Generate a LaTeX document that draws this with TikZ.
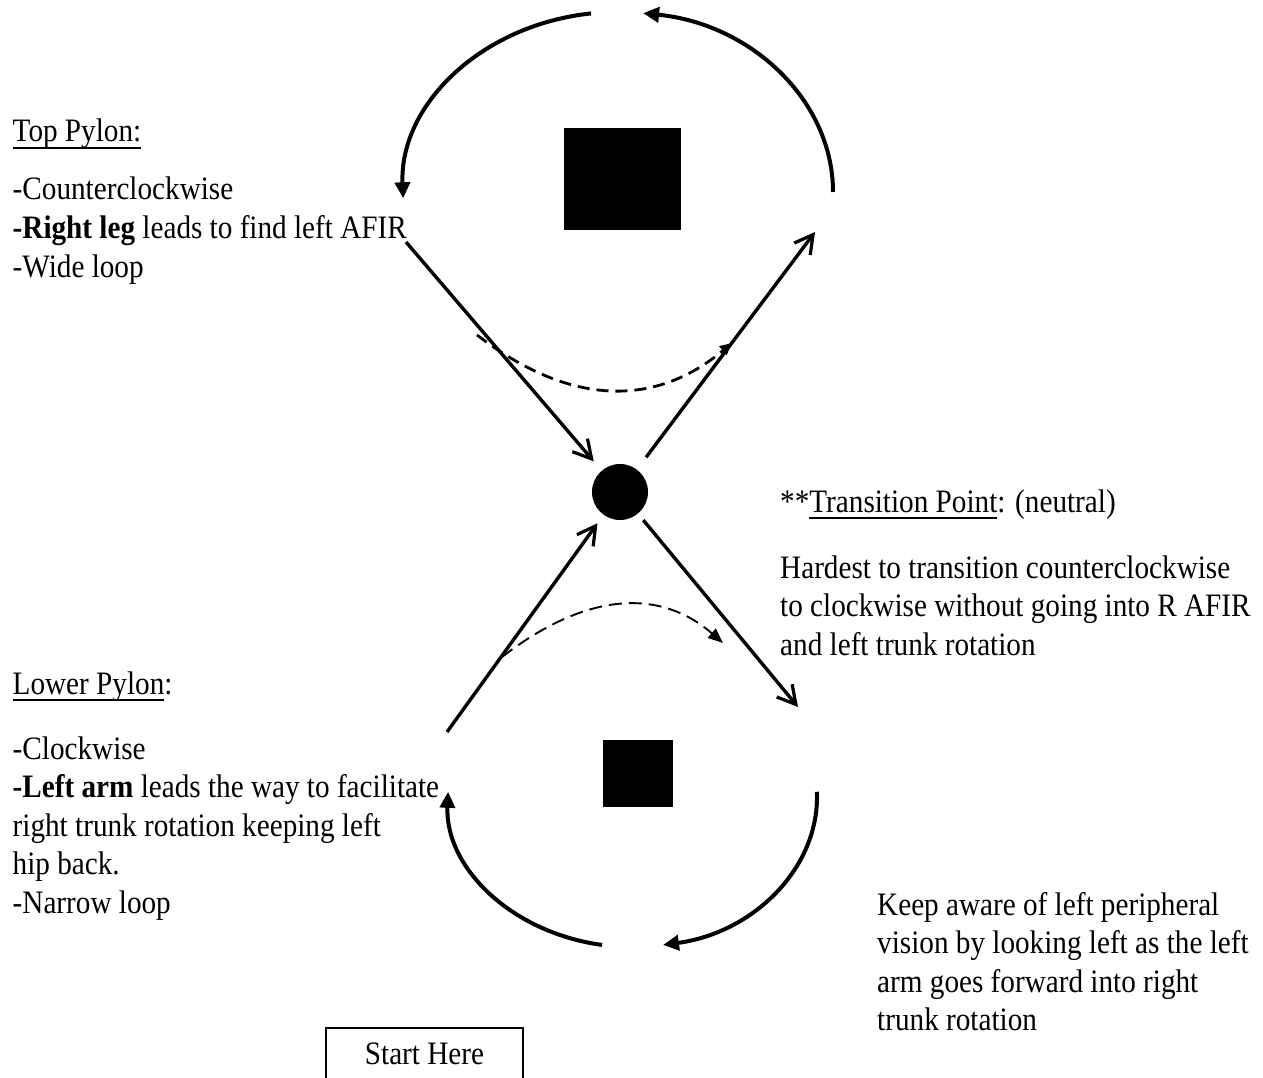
\documentclass[tikz,border=0pt]{standalone}
\usepackage{graphicx}
\usepackage{fontspec}
\setmainfont{Liberation Serif}
\usetikzlibrary{arrows.meta}
\newcommand\myul[1]{\setbox0\hbox{#1}\rlap{\rule[-6.2pt]{\wd0}{1.3pt}}\box0}
\newcommand\vs[1]{\scalebox{1}[1.12]{#1}}
\begin{document}
\begin{tikzpicture}[x=1pt,y=1pt,
  txt/.style={anchor=base west, inner sep=0pt, font=\fontsize{29.2}{38.5}\selectfont},
  solidarrow/.style={line width=3.4pt, -{Straight Barb[length=18pt,width=20pt,line width=3.2pt]}},
  looparrow/.style={line width=4pt, -{Triangle[length=16pt,width=15pt]}},
  dashtop/.style={line width=2.8pt, dash pattern=on 12pt off 7pt, -{Triangle[length=12pt,width=11pt]}},
  dashbot/.style={line width=1.9pt, dash pattern=on 13pt off 7pt, -{Triangle[length=15pt,width=12pt]}},
  pylon/.style={fill=black, inner sep=0pt, outer sep=0pt}]
\useasboundingbox (0,0) rectangle (1263,-1078);
\clip (0,0) rectangle (1263,-1078);

% pylons and transition point
\node[pylon, minimum width=117pt, minimum height=102pt] (topsq) at (622.5,-179) {};
\node[pylon, minimum width=70pt, minimum height=67pt] (botsq) at (638,-773.5) {};
\node[pylon, circle, minimum size=56pt] (dot) at (620,-492) {};

% loop around top pylon (counterclockwise)
\coordinate (tc) at (618,-192);
\draw[looparrow] (tc) ++(97.2:215pt and 180pt) arc[start angle=97.2, end angle=182, x radius=215pt, y radius=180pt];
\draw[looparrow] (tc) ++(0:215pt and 180pt) arc[start angle=0, end angle=83.3, x radius=215pt, y radius=180pt];

% loop around lower pylon (clockwise)
\coordinate (bc) at (632.5,-797);
\draw[looparrow] (bc) ++(2:184.5pt and 150pt) arc[start angle=2, end angle=-80.5, x radius=184.5pt, y radius=150pt];
\draw[looparrow] (bc) ++(260.5:184.5pt and 150pt) arc[start angle=260.5, end angle=178, x radius=184.5pt, y radius=150pt];

% straight paths through the transition point
\coordinate (p1) at (406,-242);
\coordinate (p2) at (815,-232);
\coordinate (p3) at (447,-732);
\coordinate (p4) at (798,-707);
\draw[solidarrow, shorten >=12.4pt] (p1) -- (dot);
\draw[solidarrow, shorten <=15.4pt] (dot) -- (p2);
\draw[solidarrow, shorten >=10.5pt] (p3) -- (dot);
\draw[solidarrow, shorten <=8.5pt] (dot) -- (p4);

% dashed transitions
\coordinate (d1s) at (477,-335);
\coordinate (d1e) at (732,-343);
\draw[dashtop] (d1s) .. controls (569,-405.7) and (654,-408.3) .. (d1e);
\coordinate (d2s) at (502,-657);
\coordinate (d2e) at (723,-643);
\draw[dashbot] (d2s) .. controls (585.7,-592.3) and (659.3,-587.7) .. (d2e);

% top pylon text
\node[txt] (t0) at (12.5,-142) {\vs{\myul{Top Pylon:}}};
\node[txt] (t1) at (12.5,-200) {\vs{-Counterclockwise}};
\node[txt] (t2) at (12.5,-238.5) {\vs{\textbf{-Right leg} leads to find left AFIR}};
\node[txt] (t3) at (12.5,-277) {\vs{-Wide loop}};

% transition point text
\node[txt] (r0) at (780,-512) {\vs{**\myul{Transition Point}: (neutral)}};
\node[txt] (r1) at (780,-578) {\vs{Hardest to transition counterclockwise}};
\node[txt] (r2) at (780,-616.5) {\vs{to clockwise without going into R AFIR}};
\node[txt] (r3) at (780,-655) {\vs{and left trunk rotation}};

% lower pylon text
\node[txt] (l0) at (12.5,-694) {\vs{\myul{Lower Pylon}:}};
\node[txt] (l1) at (12.5,-759) {\vs{-Clockwise}};
\node[txt] (l2) at (12.5,-797.5) {\vs{\textbf{-Left arm} leads the way to facilitate}};
\node[txt] (l3) at (12.5,-836) {\vs{right trunk rotation keeping left}};
\node[txt] (l4) at (12.5,-874.5) {\vs{hip back.}};
\node[txt] (l5) at (12.5,-913) {\vs{-Narrow loop}};

% peripheral vision text
\node[txt] (k0) at (877,-915) {\vs{Keep aware of left peripheral}};
\node[txt] (k1) at (877,-953.5) {\vs{vision by looking left as the left}};
\node[txt] (k2) at (877,-992) {\vs{arm goes forward into right}};
\node[txt] (k3) at (877,-1030.5) {\vs{trunk rotation}};

% start box
\node[draw, line width=1.4pt, anchor=base, inner sep=0pt, minimum width=197pt,
      text height=36pt, text depth=40pt, font=\fontsize{29.2}{38.5}\selectfont] (start) at (424.5,-1064) {\vs{Start Here}};
\end{tikzpicture}
\end{document}
